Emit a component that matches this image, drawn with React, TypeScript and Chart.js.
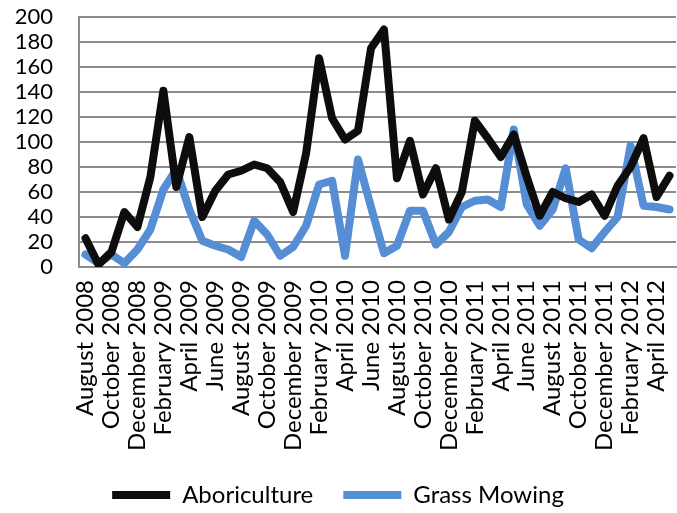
import React, { useEffect, useRef } from "react";
import { Chart, registerables } from "chart.js";

Chart.register(...registerables);

const monthNames = ["January", "February", "March", "April", "May", "June", "July", "August", "September", "October", "November", "December"];

// Aug 2008 .. May 2012 (46 months)
const months: string[] = [];
for (let y = 2008, m = 7; !(y === 2012 && m === 5); ) {
  months.push(monthNames[m] + " " + y);
  m++;
  if (m === 12) { m = 0; y++; }
}

const aboriculture = [23, 2, 12, 44, 32, 72, 141, 64, 104, 40, 61, 74, 77, 82, 79, 68, 44, 91, 167, 119, 102, 109, 175, 190, 71, 101, 58, 79, 38, 60, 117, 103, 88, 106, 72, 41, 60, 55, 52, 58, 41, 65, 80, 103, 56, 73];
const grassMowing = [10, 3, 10, 3, 14, 30, 62, 78, 46, 21, 17, 14, 8, 37, 26, 9, 16, 33, 66, 69, 9, 86, 48, 11, 17, 45, 45, 18, 28, 48, 53, 54, 48, 110, 50, 33, 46, 79, 22, 15, 28, 40, 97, 49, 48, 46];

const yMin = 0;
const yMax = 200;
const yStep = 20;

const FONT = "Lato, 'Open Sans', sans-serif";

export default function App() {
  const ref = useRef<HTMLCanvasElement | null>(null);
  useEffect(() => {
    if (!ref.current) return;
    const chart = new Chart(ref.current, {
      type: "line",
      data: {
        labels: months,
        datasets: [
          {
            label: "Aboriculture",
            data: aboriculture,
            borderColor: "#0d0d0d",
            backgroundColor: "#0d0d0d",
            borderWidth: 8,
            pointRadius: 0,
            tension: 0,
            borderJoinStyle: "round",
            borderCapStyle: "round",
          },
          {
            label: "Grass Mowing",
            data: grassMowing,
            borderColor: "#558ed5",
            backgroundColor: "#558ed5",
            borderWidth: 8,
            pointRadius: 0,
            tension: 0,
            borderJoinStyle: "round",
            borderCapStyle: "round",
          },
        ],
      },
      options: {
        responsive: false,
        animation: false,
        layout: { padding: { top: 17, right: 1, left: 0, bottom: -4 } },
        plugins: {
          tooltip: { enabled: false },
          legend: {
            position: "bottom",
            labels: {
              usePointStyle: true,
              pointStyle: "line",
              pointStyleWidth: 58,
              boxHeight: 7,
              padding: 30,
              color: "#000",
              font: { family: FONT, size: 24 },
            },
          },
        },
        scales: {
          x: {
            type: "category",
            offset: true,
            grid: { display: false, drawTicks: false },
            border: { display: true, color: "#8c8c8c", width: 2 },
            ticks: {
              autoSkip: false,
              maxRotation: 90,
              minRotation: 90,
              padding: 13,
              color: "#000",
              font: { family: FONT, size: 24 },
              callback: (_v: any, i: number) => (i % 2 === 0 ? months[i] : ""),
            },
            afterFit: (s: any) => {
              s.height = 186;
              s.paddingLeft = 0;
              s.paddingRight = 0;
            },
          },
          y: {
            min: yMin,
            max: yMax,
            grid: { color: "#8c8c8c", lineWidth: 2, drawTicks: false },
            border: { display: true, color: "#8c8c8c", width: 2 },
            ticks: {
              stepSize: yStep,
              autoSkip: false,
              padding: 26,
              color: "#000",
              font: { family: FONT, size: 22 },
            },
            afterFit: (s: any) => {
              s.width = 79;
              s.paddingTop = 0;
              s.paddingBottom = 0;
            },
          },
        },
      },
    });
    return () => chart.destroy();
  }, []);
  return (
    <div style={{ position: "fixed", left: 0, top: 0, width: 677, height: 513, background: "#fff" }}>
      <canvas ref={ref} width={677} height={513} />
    </div>
  );
}
